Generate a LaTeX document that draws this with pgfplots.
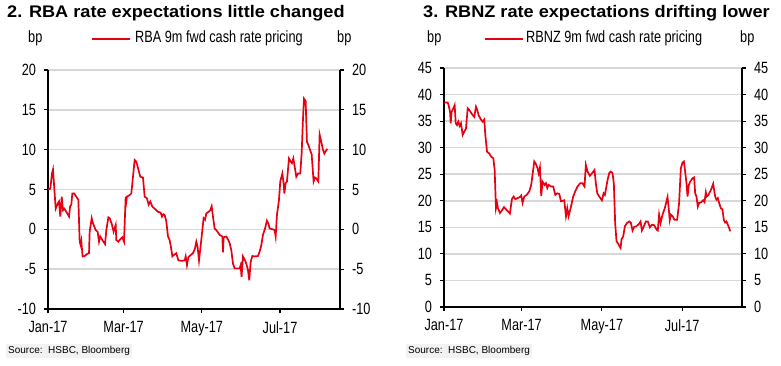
\documentclass[border=0pt]{standalone}
\usepackage{pgfplots}
\pgfplotsset{compat=1.18}
\usepackage{pgfplotstable}
\usepackage{fontspec}
\setmainfont{Liberation Sans}
\newfontfamily\lab[FakeStretch=0.78]{Liberation Sans}
\newfontfamily\ttl[FakeStretch=1.08]{Liberation Sans Bold}
\definecolor{hred}{RGB}{230,0,18}
\definecolor{gridc}{RGB}{215,215,215}
\newcommand\lf{\lab\fontsize{16.3bp}{18bp}\selectfont}
\newcommand\tf{\ttl\fontsize{16.8bp}{19bp}\selectfont}
\newcommand\srcf{\fontsize{10bp}{12bp}\selectfont}

\pgfplotstableread{
d v
0 5.0
1.8 5.1
3.1 7.0
3.9 7.5
6.0 2.6
7.8 3.3
8.6 3.5
9.6 1.6
10.7 4.1
11.7 2.4
12.7 2.6
14.3 2.2
16.4 1.6
17.2 2.85
18.2 3.1
19.0 4.5
20.5 4.5
22.1 4.1
23.7 3.7
24.7 -1.55
25.5 -2.0
26.0 -1.5
27.0 -3.4
28.6 -3.35
30.4 -3.1
32.0 -3.0
32.5 -0.3
34.1 1.4
35.1 0.75
37.2 -0.1
38.7 -0.3
39.8 -1.55
40.8 -0.9
42.4 -1.35
44.5 -1.85
45.5 -0.1
47.1 1.5
48.1 1.4
49.7 0.7
51.2 -0.3
52.8 0.55
53.3 -1.35
54.9 -1.55
56.4 -1.25
58.0 -1.0
59.3 -1.55
60.6 4.1
61.1 3.5
61.6 4.1
63.7 4.3
65.0 4.5
66.3 6.6
67.6 8.7
68.9 8.5
70.2 7.7
72.0 6.6
74.1 6.5
75.4 4.1
77.2 3.9
78.5 3.1
79.8 3.5
81.4 2.85
83.2 2.6
85.8 2.2
87.9 2.1
88.9 1.6
90.0 1.9
91.0 1.8
92.3 1.0
93.6 -0.9
94.9 -1.35
95.9 -2.2
97.0 -3.4
98.3 -3.2
100.1 -3.0
101.7 -3.9
104.3 -3.95
106.6 -3.9
107.4 -3.4
108.4 -4.5
109.5 -3.5
111.5 -3.2
113.1 -3.0
114.7 -2.4
115.7 -1.55
116.7 -2.2
117.8 -3.9
119.3 -1.75
120.4 -0.1
121.4 1.4
122.5 1.2
123.5 2.0
125.3 2.2
126.6 2.4
127.7 2.9
128.7 1.6
130.0 0.1
131.8 -0.2
133.9 -0.7
136.0 -0.9
136.5 -2.9
137.0 -1.0
139.1 -0.9
140.7 -1.35
141.7 -1.75
143.0 -2.6
144.3 -4.3
145.6 -4.9
147.4 -4.9
149.5 -4.9
150.3 -4.5
151.0 -6.0
152.1 -3.4
153.4 -3.8
154.7 -4.3
156.0 -5.1
157.0 -6.4
158.1 -4.1
159.4 -3.35
161.2 -3.4
163.8 -3.35
165.1 -2.8
166.4 -2.0
167.7 -0.7
169.3 0.1
170.8 1.1
171.9 0.75
172.9 0.1
175.5 0.0
176.8 -0.1
177.6 -0.9
178.6 1.8
180.2 3.7
181.2 6.0
182.8 7.0
183.8 5.8
184.4 4.5
185.4 5.8
186.4 6.0
188.0 8.9
189.3 8.5
190.3 8.3
191.4 8.9
192.4 7.9
193.7 6.6
195.0 7.0
196.8 7.0
197.9 9.6
198.9 13.8
199.7 16.4
201.0 16.1
202.0 11.0
203.1 10.6
204.6 9.9
205.7 9.4
207.2 6.0
208.3 6.5
209.3 6.4
210.9 6.0
211.9 11.9
212.9 11.2
214.5 10.0
215.6 9.5
216.6 9.8
217.9 10.1
}\rba

\pgfplotstableread{
d v
0.3 38.5
2.8 38.5
3.5 38.0
4.6 36.75
5.1 34.6
5.8 36.75
7.1 37.4
8.1 38.0
8.9 34.6
9.9 34.25
10.9 34.9
11.9 34.1
12.9 34.6
14.2 32.4
15.4 33.0
16.7 33.6
18.0 37.4
19.2 37.1
21.3 36.3
23.0 35.8
24.3 37.7
25.3 37.1
26.3 36.1
28.1 35.3
29.4 34.9
30.6 35.3
31.4 32.4
32.7 29.25
34.4 28.9
35.9 28.3
37.5 28.0
38.5 25.8
39.5 18.6
40.3 19.6
41.0 18.6
42.5 17.7
44.1 18.2
45.6 18.8
47.1 18.4
48.6 18.0
50.1 17.6
51.6 20.3
52.9 20.8
54.2 20.3
55.9 20.5
57.7 20.7
58.7 21.0
59.7 19.6
61.0 20.8
62.8 21.1
64.8 21.75
66.3 23.0
68.6 27.4
69.9 26.9
71.1 26.1
71.9 25.2
72.9 26.3
73.9 20.9
74.9 23.6
76.5 23.0
77.5 23.3
78.5 22.4
79.5 23.0
81.3 22.7
83.0 22.7
84.6 21.1
86.1 21.4
87.6 21.3
88.9 19.9
91.4 20.1
92.7 17.1
93.7 18.6
94.7 17.1
96.5 18.9
98.2 20.8
99.7 21.75
101.5 22.7
103.5 23.3
105.3 23.3
106.8 22.7
107.8 26.75
109.1 25.5
110.9 24.7
112.9 25.3
114.4 25.8
115.4 23.3
116.5 21.4
118.0 20.8
120.0 20.1
121.3 21.4
122.3 21.1
124.3 23.9
125.6 25.2
126.8 25.5
128.1 25.2
129.1 23.2
130.1 15.8
131.1 12.4
132.4 11.9
134.2 11.1
134.9 12.7
136.2 13.3
137.5 15.2
139.0 15.8
140.8 16.1
142.0 15.9
143.3 14.4
144.6 15.1
146.3 15.2
148.4 15.7
149.4 16.1
150.4 14.4
151.6 15.0
153.4 16.1
154.9 16.1
156.5 15.0
158.0 15.5
159.7 15.4
161.5 14.6
162.5 14.4
163.5 17.4
164.6 15.8
166.1 17.4
167.8 18.6
169.9 20.7
170.9 18.3
171.6 16.4
172.4 17.4
173.7 17.1
175.2 16.4
177.2 16.4
178.7 19.6
180.0 26.1
181.3 27.2
182.3 27.4
183.3 25.5
184.3 23.3
185.1 20.8
186.1 23.0
187.1 23.6
188.9 24.25
190.1 24.4
190.9 21.4
191.9 20.8
192.9 18.9
193.9 19.6
195.4 19.7
197.0 20.1
198.0 19.75
199.0 21.6
199.7 20.8
201.0 21.1
203.0 22.1
204.6 23.2
206.1 20.8
207.1 20.2
208.1 20.5
209.1 19.6
210.4 18.6
211.6 18.4
212.7 16.4
213.7 15.9
214.7 16.1
215.7 15.5
216.7 14.9
217.5 14.25
}\rbnz

\pgfplotsset{
  base/.style={
    scale only axis, height=239bp,
    xtick={0,59,120,181},
    xticklabels={Jan-17,Mar-17,May-17,Jul-17},
    tick align=outside, major tick length=4bp,
    tick style={black, line width=1.2bp},
    axis line style={-, black, line width=1.4bp},
    ticklabel style={font=\lf},
    xticklabel style={yshift=-5bp},
    /pgf/number format/assume math mode=true,
  },
  mainax/.style={base,
    axis x line*=bottom, axis y line*=left,
    ymajorgrids, grid style={gridc, line width=1.5bp},
    yticklabel style={xshift=-4.5bp},
  },
  rightax/.style={base,
    axis y line*=right, axis x line=none,
    yticklabel style={xshift=4.5bp},
  },
}

\begin{document}
\begin{tikzpicture}
\useasboundingbox (0,0) rectangle (781bp,366bp);

% ---------- Left chart ----------
\begin{axis}[mainax, at={(48bp,57bp)}, anchor=south west, width=292bp,
  xmin=0, xmax=227.8, ymin=-10, ymax=20, ytick={-10,-5,...,20}]
\addplot[hred, line width=1.7bp] table[x=d,y=v]{\rba};
\end{axis}
\begin{axis}[rightax, at={(48bp,57bp)}, anchor=south west, width=292bp,
  xmin=0, xmax=227.8, ymin=-10, ymax=20, ytick={-10,-5,...,20}]
\end{axis}

% ---------- Right chart ----------
\begin{axis}[mainax, at={(444bp,59bp)}, anchor=south west, width=298bp,
  xmin=0, xmax=226.5, ymin=0, ymax=45, ytick={0,5,...,45}]
\addplot[hred, line width=1.7bp] table[x=d,y=v]{\rbnz};
\end{axis}
\begin{axis}[rightax, at={(444bp,59bp)}, anchor=south west, width=298bp,
  xmin=0, xmax=226.5, ymin=0, ymax=45, ytick={0,5,...,45}]
\end{axis}

% ---------- Titles ----------
\node[anchor=base west, inner sep=0] at (7bp,348bp) {\tf 2. RBA rate expectations little changed};
\node[anchor=base west, inner sep=0] at (423bp,348bp) {\tf 3. RBNZ rate expectations drifting lower};

% ---------- Unit labels and legends ----------
\node[anchor=base west, inner sep=0] at (28bp,323bp) {\lf bp};
\draw[hred, line width=1.8bp] (92bp,327bp) -- (130bp,327bp);
\node[anchor=base west, inner sep=0] at (135bp,323bp) {\lf RBA 9m fwd cash rate pricing};
\node[anchor=base west, inner sep=0] at (337bp,323bp) {\lf bp};

\node[anchor=base west, inner sep=0] at (427bp,323bp) {\lf bp};
\draw[hred, line width=1.8bp] (485bp,327bp) -- (523bp,327bp);
\node[anchor=base west, inner sep=0] at (526bp,323bp) {\lf RBNZ 9m fwd cash rate pricing};
\node[anchor=base west, inner sep=0] at (740bp,323bp) {\lf bp};

% ---------- Sources ----------
\node[anchor=west, fill=black!5, inner xsep=2bp, inner ysep=2bp] at (6bp,15bp) {\srcf Source:\ \ HSBC, Bloomberg};
\node[anchor=west, fill=black!5, inner xsep=2bp, inner ysep=2bp] at (406bp,15bp) {\srcf Source:\ \ HSBC, Bloomberg};
\end{tikzpicture}
\end{document}
